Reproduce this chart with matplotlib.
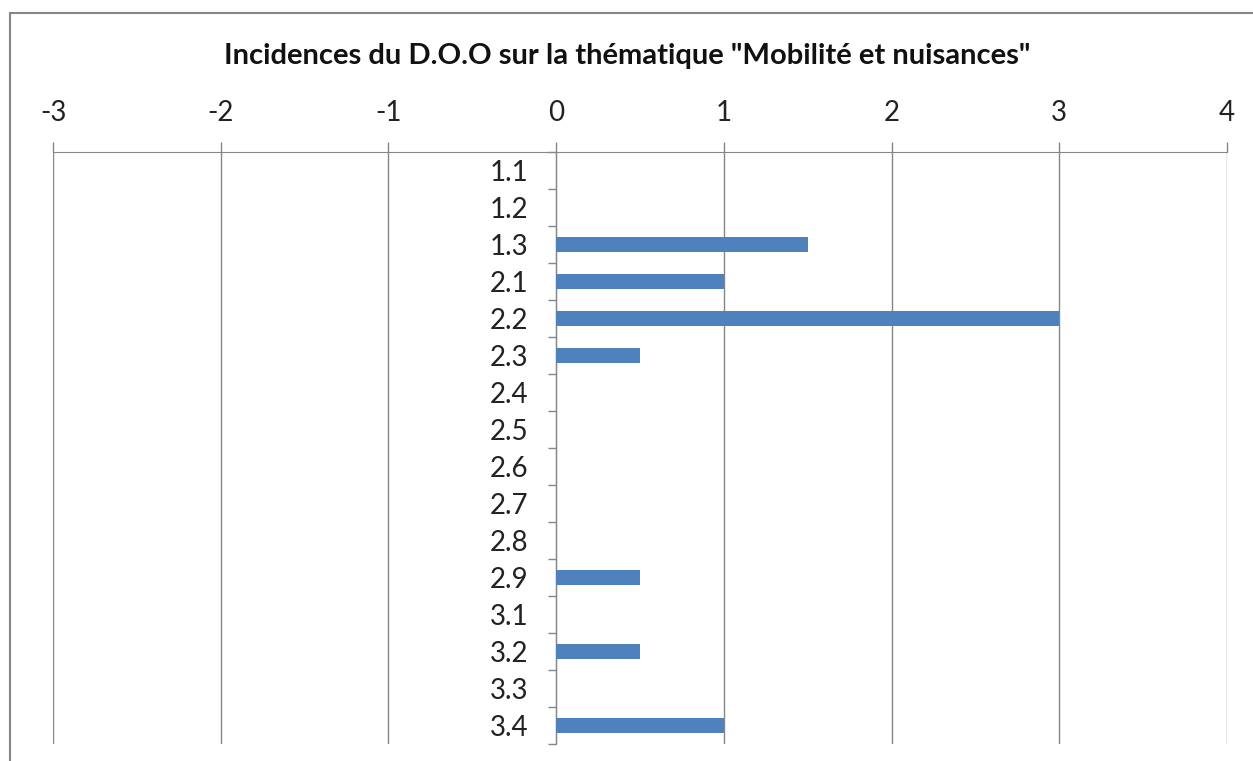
"""
Incidences du D.O.O sur la thématique "Mobilité et nuisances"
Barres horizontales, axe des valeurs en haut.
"""

import numpy as np
import matplotlib
matplotlib.use("Agg")
import matplotlib.pyplot as plt
from matplotlib.patches import Rectangle
from matplotlib.ticker import FixedLocator

# ── Données ───────────────────────────────────────────────
CATEGORIES = ["1.1", "1.2", "1.3", "2.1", "2.2", "2.3", "2.4", "2.5",
              "2.6", "2.7", "2.8", "2.9", "3.1", "3.2", "3.3", "3.4"]
VALEURS = [0, 0, 1.5, 1, 3, 0.5, 0, 0, 0, 0, 0, 0.5, 0, 0.5, 0, 1]
X_TICKS = [-3, -2, -1, 0, 1, 2, 3, 4]
TITRE = 'Incidences du D.O.O sur la thématique "Mobilité et nuisances"'

BLEU = "#4F81BD"
GRIS = "#868686"
plt.rcParams["font.family"] = ["Lato", "DejaVu Sans"]

W, H = 1253, 761
fig = plt.figure(figsize=(W / 100, H / 100), dpi=100)

# cadre du graphique (coupé à droite et en bas)
fig.patches.append(Rectangle((10 / W, -0.1), 1.2, (H - 13) / H + 0.1,
                             transform=fig.transFigure, fill=False,
                             edgecolor=GRIS, lw=1.5))

ax = fig.add_axes([53 / W, (H - 744) / H, (1227 - 53) / W, (744 - 152) / H])

y = np.arange(len(CATEGORIES))
ax.barh(y, VALEURS, height=0.42, color=BLEU, zorder=3)

ax.set_xlim(X_TICKS[0], X_TICKS[-1])
ax.set_ylim(len(CATEGORIES) - 0.5, -0.5)
ax.set_xticks(X_TICKS)
ax.set_xticklabels([str(t) for t in X_TICKS])
ax.xaxis.tick_top()
ax.tick_params(axis="x", direction="out", length=7, width=1, color=GRIS,
               labelsize=20, pad=12, labelcolor="#222222")
ax.grid(axis="x", color=GRIS, lw=1, zorder=0)

ax.set_yticks(y)
ax.set_yticklabels(CATEGORIES)
ax.yaxis.set_minor_locator(FixedLocator(np.arange(-0.5, len(CATEGORIES), 1)))
ax.tick_params(axis="y", which="major", length=0, pad=20, labelsize=20,
               labelcolor="#222222")
ax.tick_params(axis="y", which="minor", length=6, width=1, color=GRIS,
               direction="out")

for s in ["right", "bottom"]:
    ax.spines[s].set_visible(False)
ax.spines["left"].set_position(("data", 0))
ax.spines["left"].set_color(GRIS)
ax.spines["top"].set_color(GRIS)

fig.text((222 + 1033) / 2 / W, 1 - 56 / H, TITRE, ha="center", va="center",
         fontsize=21, fontweight="bold", color="#111111")

fig.savefig("out.png", dpi=100)
